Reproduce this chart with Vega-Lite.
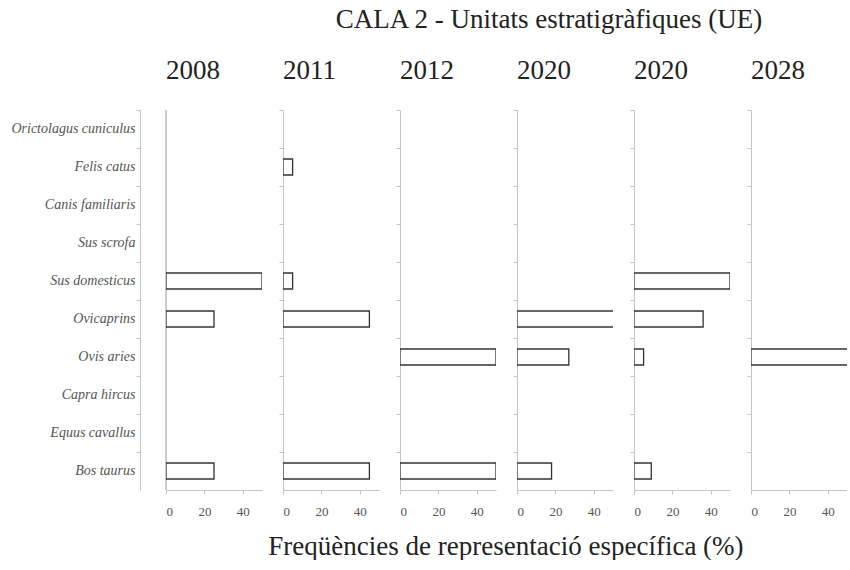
{
  "$schema": "https://vega.github.io/schema/vega-lite/v6.json",
  "background": "white",
  "padding": {"left": 10, "top": 5, "right": 0, "bottom": 0},
  "config": {
    "view": {"stroke": null},
    "font": "Liberation Serif",
    "title": {"font": "Liberation Serif", "fontWeight": "normal", "color": "#222"},
    "axis": {"labelFont": "Liberation Serif", "domainColor": "#c4c4c4", "tickColor": "#c4c4c4", "grid": false}
  },
  "datasets": {
    "d": [
      {"panel": "p1", "species": "Sus domesticus", "value": 50},
      {"panel": "p1", "species": "Ovicaprins", "value": 25},
      {"panel": "p1", "species": "Bos taurus", "value": 25},
      {"panel": "p2", "species": "Felis catus", "value": 5},
      {"panel": "p2", "species": "Sus domesticus", "value": 5},
      {"panel": "p2", "species": "Ovicaprins", "value": 45},
      {"panel": "p2", "species": "Bos taurus", "value": 45},
      {"panel": "p3", "species": "Ovis aries", "value": 50},
      {"panel": "p3", "species": "Bos taurus", "value": 50},
      {"panel": "p4", "species": "Ovicaprins", "value": 55},
      {"panel": "p4", "species": "Ovis aries", "value": 27},
      {"panel": "p4", "species": "Bos taurus", "value": 18},
      {"panel": "p5", "species": "Sus domesticus", "value": 50},
      {"panel": "p5", "species": "Ovicaprins", "value": 36},
      {"panel": "p5", "species": "Ovis aries", "value": 5},
      {"panel": "p5", "species": "Bos taurus", "value": 9},
      {"panel": "p6", "species": "Ovis aries", "value": 100}
    ]
  },
  "title": {"text": "CALA 2 - Unitats estratigràfiques (UE)", "fontSize": 27, "anchor": "middle", "dx": 120, "offset": 23},
  "vconcat": [
    {
      "title": {"text": "Freqüències de representació específica (%)", "orient": "bottom", "fontSize": 27, "anchor": "middle", "dx": 77, "offset": 16},
      "spacing": 21,
      "bounds": "flush",
      "hconcat": [
        {
          "width": 96, "height": 380,
          "title": {"text": "2008", "anchor": "start", "frame": "group", "fontSize": 27, "offset": 25},
          "data": {"name": "d"},
          "transform": [{"filter": "datum.panel == 'p1'"}],
          "layer": [
            {"mark": {"type": "rule", "color": "#c4c4c4"}, "encoding": {"x": {"datum": 0, "type": "quantitative"}}},
            {
              "mark": {"type": "bar", "fill": "white", "stroke": "#333", "strokeWidth": 1.3, "size": 16, "clip": true},
              "encoding": {
                "y": {"field": "species", "type": "nominal", "sort": null,
                  "scale": {"domain": ["Orictolagus cuniculus", "Felis catus", "Canis familiaris", "Sus scrofa", "Sus domesticus", "Ovicaprins", "Ovis aries", "Capra hircus", "Equus cavallus", "Bos taurus"], "paddingInner": 0, "paddingOuter": 0},
                  "axis": {"title": null, "offset": 26, "bandPosition": 0, "tickSize": 4, "labelFontSize": 14, "labelFontStyle": "italic", "labelColor": "#555", "labelPadding": 1}},
                "x": {"field": "value", "type": "quantitative", "scale": {"domain": [0, 50], "nice": false},
                  "axis": {"title": null, "values": [0, 20, 40], "tickSize": 4, "labelFontSize": 13, "labelColor": "#555", "labelPadding": 11}}
              }
            }
          ]
        },
        {
          "width": 96, "height": 380,
          "title": {"text": "2011", "anchor": "start", "frame": "group", "fontSize": 27, "offset": 25},
          "data": {"name": "d"},
          "transform": [{"filter": "datum.panel == 'p2'"}],
          "mark": {"type": "bar", "fill": "white", "stroke": "#333", "strokeWidth": 1.3, "size": 16, "clip": true},
          "encoding": {
            "y": {"field": "species", "type": "nominal", "sort": null,
              "scale": {"domain": ["Orictolagus cuniculus", "Felis catus", "Canis familiaris", "Sus scrofa", "Sus domesticus", "Ovicaprins", "Ovis aries", "Capra hircus", "Equus cavallus", "Bos taurus"], "paddingInner": 0, "paddingOuter": 0},
              "axis": {"title": null, "labels": false, "bandPosition": 0, "tickSize": 4}},
            "x": {"field": "value", "type": "quantitative", "scale": {"domain": [0, 50], "nice": false},
              "axis": {"title": null, "values": [0, 20, 40], "tickSize": 4, "labelFontSize": 13, "labelColor": "#555", "labelPadding": 11}}
          }
        },
        {
          "width": 96, "height": 380,
          "title": {"text": "2012", "anchor": "start", "frame": "group", "fontSize": 27, "offset": 25},
          "data": {"name": "d"},
          "transform": [{"filter": "datum.panel == 'p3'"}],
          "mark": {"type": "bar", "fill": "white", "stroke": "#333", "strokeWidth": 1.3, "size": 16, "clip": true},
          "encoding": {
            "y": {"field": "species", "type": "nominal", "sort": null,
              "scale": {"domain": ["Orictolagus cuniculus", "Felis catus", "Canis familiaris", "Sus scrofa", "Sus domesticus", "Ovicaprins", "Ovis aries", "Capra hircus", "Equus cavallus", "Bos taurus"], "paddingInner": 0, "paddingOuter": 0},
              "axis": {"title": null, "labels": false, "bandPosition": 0, "tickSize": 4}},
            "x": {"field": "value", "type": "quantitative", "scale": {"domain": [0, 50], "nice": false},
              "axis": {"title": null, "values": [0, 20, 40], "tickSize": 4, "labelFontSize": 13, "labelColor": "#555", "labelPadding": 11}}
          }
        },
        {
          "width": 96, "height": 380,
          "title": {"text": "2020", "anchor": "start", "frame": "group", "fontSize": 27, "offset": 25},
          "data": {"name": "d"},
          "transform": [{"filter": "datum.panel == 'p4'"}],
          "mark": {"type": "bar", "fill": "white", "stroke": "#333", "strokeWidth": 1.3, "size": 16, "clip": true},
          "encoding": {
            "y": {"field": "species", "type": "nominal", "sort": null,
              "scale": {"domain": ["Orictolagus cuniculus", "Felis catus", "Canis familiaris", "Sus scrofa", "Sus domesticus", "Ovicaprins", "Ovis aries", "Capra hircus", "Equus cavallus", "Bos taurus"], "paddingInner": 0, "paddingOuter": 0},
              "axis": {"title": null, "labels": false, "bandPosition": 0, "tickSize": 4}},
            "x": {"field": "value", "type": "quantitative", "scale": {"domain": [0, 50], "nice": false},
              "axis": {"title": null, "values": [0, 20, 40], "tickSize": 4, "labelFontSize": 13, "labelColor": "#555", "labelPadding": 11}}
          }
        },
        {
          "width": 96, "height": 380,
          "title": {"text": "2020", "anchor": "start", "frame": "group", "fontSize": 27, "offset": 25},
          "data": {"name": "d"},
          "transform": [{"filter": "datum.panel == 'p5'"}],
          "mark": {"type": "bar", "fill": "white", "stroke": "#333", "strokeWidth": 1.3, "size": 16, "clip": true},
          "encoding": {
            "y": {"field": "species", "type": "nominal", "sort": null,
              "scale": {"domain": ["Orictolagus cuniculus", "Felis catus", "Canis familiaris", "Sus scrofa", "Sus domesticus", "Ovicaprins", "Ovis aries", "Capra hircus", "Equus cavallus", "Bos taurus"], "paddingInner": 0, "paddingOuter": 0},
              "axis": {"title": null, "labels": false, "bandPosition": 0, "tickSize": 4}},
            "x": {"field": "value", "type": "quantitative", "scale": {"domain": [0, 50], "nice": false},
              "axis": {"title": null, "values": [0, 20, 40], "tickSize": 4, "labelFontSize": 13, "labelColor": "#555", "labelPadding": 11}}
          }
        },
        {
          "width": 96, "height": 380,
          "title": {"text": "2028", "anchor": "start", "frame": "group", "fontSize": 27, "offset": 25},
          "data": {"name": "d"},
          "transform": [{"filter": "datum.panel == 'p6'"}],
          "mark": {"type": "bar", "fill": "white", "stroke": "#333", "strokeWidth": 1.3, "size": 16, "clip": true},
          "encoding": {
            "y": {"field": "species", "type": "nominal", "sort": null,
              "scale": {"domain": ["Orictolagus cuniculus", "Felis catus", "Canis familiaris", "Sus scrofa", "Sus domesticus", "Ovicaprins", "Ovis aries", "Capra hircus", "Equus cavallus", "Bos taurus"], "paddingInner": 0, "paddingOuter": 0},
              "axis": {"title": null, "labels": false, "bandPosition": 0, "tickSize": 4}},
            "x": {"field": "value", "type": "quantitative", "scale": {"domain": [0, 50], "nice": false},
              "axis": {"title": null, "values": [0, 20, 40], "tickSize": 4, "labelFontSize": 13, "labelColor": "#555", "labelPadding": 11}}
          }
        }
      ]
    }
  ]
}
